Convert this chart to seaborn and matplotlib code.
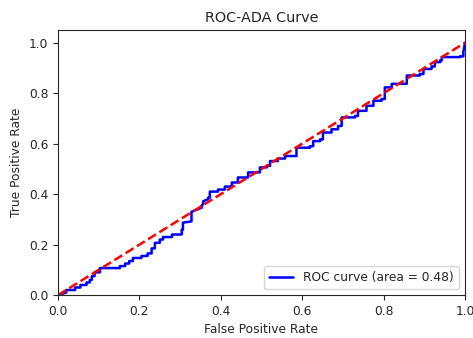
import matplotlib
matplotlib.use("Agg")
import matplotlib.pyplot as plt
import numpy as np
import pandas as pd
import seaborn as sns

# roc curve vertices
fpr = [0.0, 0.02, 0.02, 0.042, 0.042, 0.055, 0.055, 0.07, 0.07, 0.078, 0.078,
       0.083, 0.083, 0.09, 0.09, 0.103, 0.103, 0.152, 0.152, 0.165, 0.165,
       0.175, 0.175, 0.184, 0.184, 0.205, 0.205, 0.22, 0.22, 0.23, 0.23,
       0.238, 0.238, 0.25, 0.25, 0.258, 0.258, 0.28, 0.28, 0.304, 0.304,
       0.307, 0.307, 0.328, 0.328, 0.353, 0.353, 0.357, 0.357, 0.369, 0.369,
       0.373, 0.373, 0.393, 0.393, 0.41, 0.41, 0.427, 0.427, 0.442, 0.442,
       0.467, 0.467, 0.496, 0.496, 0.513, 0.513, 0.521, 0.521, 0.54, 0.54,
       0.558, 0.558, 0.586, 0.586, 0.619, 0.619, 0.627, 0.627, 0.644, 0.644,
       0.651, 0.651, 0.672, 0.672, 0.688, 0.688, 0.697, 0.697, 0.73, 0.73,
       0.737, 0.737, 0.758, 0.758, 0.775, 0.775, 0.795, 0.795, 0.803, 0.803,
       0.82, 0.82, 0.857, 0.857, 0.889, 0.889, 0.898, 0.898, 0.918, 0.918,
       0.926, 0.926, 0.939, 0.939, 0.943, 0.943, 0.988, 0.988, 0.996, 0.996,
       1.0]
tpr = [0.0, 0.01, 0.02, 0.02, 0.03, 0.03, 0.04, 0.04, 0.05, 0.05, 0.06,
       0.06, 0.075, 0.075, 0.09, 0.09, 0.107, 0.107, 0.115, 0.115, 0.125,
       0.125, 0.135, 0.135, 0.147, 0.147, 0.155, 0.155, 0.165, 0.165, 0.185,
       0.185, 0.207, 0.207, 0.22, 0.22, 0.23, 0.23, 0.24, 0.24, 0.259,
       0.259, 0.287, 0.292, 0.33, 0.346, 0.355, 0.362, 0.372, 0.38, 0.386,
       0.386, 0.41, 0.41, 0.418, 0.418, 0.43, 0.43, 0.446, 0.446, 0.466,
       0.466, 0.486, 0.486, 0.506, 0.506, 0.512, 0.512, 0.531, 0.531, 0.541,
       0.541, 0.551, 0.551, 0.584, 0.584, 0.59, 0.59, 0.61, 0.61, 0.617,
       0.617, 0.644, 0.644, 0.657, 0.657, 0.67, 0.67, 0.704, 0.704, 0.71,
       0.71, 0.73, 0.73, 0.75, 0.75, 0.77, 0.77, 0.777, 0.777, 0.823,
       0.823, 0.837, 0.837, 0.87, 0.87, 0.876, 0.876, 0.896, 0.896, 0.906,
       0.906, 0.923, 0.923, 0.93, 0.93, 0.943, 0.943, 0.946, 0.946, 0.963,
       1.0]
roc_auc = 0.48

diag = [0.0, 1.0]

sns.set_style("ticks")
plt.rcParams["font.family"] = ["DejaVu Sans"]
plt.rcParams["font.size"] = 8.8
plt.rcParams["axes.titlesize"] = 10.4
plt.rcParams["axes.labelsize"] = 8.8
plt.rcParams["xtick.labelsize"] = 8.8
plt.rcParams["ytick.labelsize"] = 8.8
plt.rcParams["legend.fontsize"] = 8.8

fig, ax = plt.subplots(figsize=(4.73, 3.38), dpi=100)
fig.subplots_adjust(left=0.1226, right=0.983, top=0.911, bottom=0.127)

df = pd.DataFrame({"fpr": fpr, "tpr": tpr})
sns.lineplot(data=df, x="fpr", y="tpr", sort=False, estimator=None,
             color="blue", lw=1.8, label=f"ROC curve (area = {roc_auc:.2f})", ax=ax)
sns.lineplot(x=diag, y=diag, color="red", lw=1.8, linestyle="--", ax=ax)

ax.set_xlim(0.0, 1.0)
ax.set_ylim(0.0, 1.05)
ax.set_xlabel("False Positive Rate")
ax.set_ylabel("True Positive Rate")
ax.set_title("ROC-ADA Curve")
ax.legend(loc="lower right")

fig.savefig("out.png", dpi=100)
